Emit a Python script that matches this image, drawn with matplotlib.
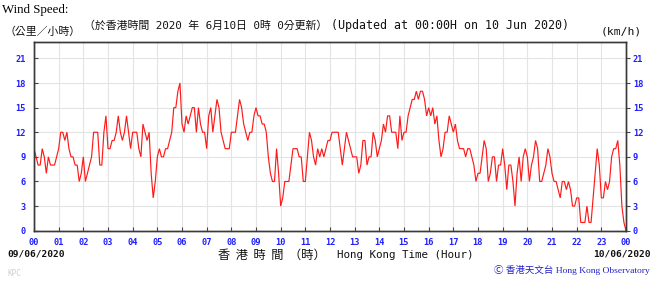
import numpy as np
import matplotlib
matplotlib.use("Agg")
import matplotlib.pyplot as plt

# ---- data: wind speed (km/h) every 5 minutes, one list per hour ----
h00 = [10, 9, 8, 8, 10, 9, 7, 9, 8, 8, 8, 9]
h01 = [10, 12, 12, 11, 12, 10, 9, 9, 8, 8, 6, 7]
h02 = [9, 6, 7, 8, 9, 12, 12, 12, 8, 8, 12, 14]
h03 = [10, 10, 11, 11, 12, 14, 12, 11, 12, 14, 12, 10]
h04 = [12, 12, 12, 10, 9, 13, 12, 11, 12, 7, 4, 6]
h05 = [9, 10, 9, 9, 10, 10, 11, 12, 15, 15, 17, 18]
h06 = [13, 12, 14, 13, 14, 15, 15, 12, 15, 13, 12, 12]
h07 = [10, 14, 15, 12, 14, 16, 15, 12, 11, 10, 10, 10]
h08 = [12, 12, 12, 14, 16, 15, 13, 12, 11, 12, 12, 14]
h09 = [15, 14, 14, 13, 13, 12, 9, 7, 6, 6, 10, 7]
h10 = [3, 4, 6, 6, 6, 8, 10, 10, 10, 9, 9, 6]
h11 = [6, 9, 12, 11, 9, 8, 10, 9, 10, 9, 10, 11]
h12 = [11, 12, 12, 12, 12, 10, 8, 10, 12, 11, 10, 9]
h13 = [9, 9, 7, 8, 11, 11, 8, 9, 9, 12, 11, 9]
h14 = [10, 11, 13, 12, 14, 14, 12, 12, 12, 10, 14, 11]
h15 = [12, 12, 14, 15, 16, 16, 17, 16, 17, 17, 16, 14]
h16 = [15, 14, 15, 13, 14, 11, 9, 10, 12, 12, 14, 13]
h17 = [12, 13, 11, 10, 10, 10, 9, 10, 10, 9, 8, 6]
h18 = [7, 7, 9, 11, 10, 6, 7, 9, 9, 6, 8, 8]
h19 = [10, 8, 5, 8, 8, 6, 3, 7, 9, 6, 9, 10]
h20 = [9, 6, 8, 9, 11, 10, 6, 6, 7, 8, 10, 9]
h21 = [7, 6, 6, 5, 4, 6, 6, 5, 6, 5, 3, 3]
h22 = [4, 4, 1, 1, 1, 3, 1, 1, 4, 7, 10, 8]
h23 = [4, 4, 6, 5, 6, 9, 10, 10, 11, 8, 3, 1]
h24 = [0]

hour_lists = [h00, h01, h02, h03, h04, h05, h06, h07, h08, h09, h10, h11,
              h12, h13, h14, h15, h16, h17, h18, h19, h20, h21, h22, h23, h24]
speed = np.array([v for hl in hour_lists for v in hl], dtype=float)
hours = np.arange(len(speed)) / 12.0

x_ticks = list(range(25))
x_tick_labels = ["00", "01", "02", "03", "04", "05", "06", "07", "08", "09", "10", "11",
                 "12", "13", "14", "15", "16", "17", "18", "19", "20", "21", "22", "23", "00"]
y_ticks = [0, 3, 6, 9, 12, 15, 18, 21]
y_tick_labels = ["0", "3", "6", "9", "12", "15", "18", "21"]

# ---- figure ----
W, H = 656, 285
fig = plt.figure(figsize=(W / 100, H / 100), dpi=100)
fig.patch.set_facecolor("white")

def P(x, y):
    return x / W, 1 - y / H

left, right, top, bottom = 34, 626, 42, 230.7
ax = fig.add_axes([left / W, 1 - bottom / H, (right - left) / W, (bottom - top) / H])

ax.plot(hours, speed, color="#ff1a1a", lw=0.85, solid_joinstyle="miter")
ax.set_xlim(0, 24)
ax.set_ylim(0, 23)

blue = "#1f1fff"
tick_font = dict(family="DejaVu Sans Mono", weight="bold", size=6.2)

ax.set_xticks(x_ticks)
ax.set_xticklabels(x_tick_labels, color=blue, **tick_font)
ax.set_yticks(y_ticks)
ax.set_yticklabels(y_tick_labels, color=blue, **tick_font)
ax.tick_params(axis="x", direction="in", length=3, width=0.8, color="#444444", pad=5)
ax.tick_params(axis="y", direction="in", length=3, width=0.8, color="#444444", pad=6)

ax2 = ax.twinx()
ax2.set_ylim(0, 23)
ax2.set_yticks(y_ticks)
ax2.set_yticklabels(y_tick_labels, color=blue, **tick_font)
ax2.tick_params(axis="y", direction="out", length=3, width=0.8, color="#444444", pad=2)

ax.grid(True, color="#e4e4e4", lw=0.8)
ax.set_axisbelow(True)
for a in (ax, ax2):
    for s in a.spines.values():
        s.set_color("#3a3a3a")
        s.set_linewidth(1.0)

# ---- texts ----
fig.text(*P(2, 10), "Wind Speed:", family="Liberation Serif", size=9.3,
         ha="left", va="center", color="black")
fig.text(*P(4, 32), "（公里／小時）", family=["Noto Sans CJK TC", "DejaVu Sans"], size=7.8,
         ha="left", va="center", color="#111111")
fig.text(*P(84, 26), "（於香港時間 2020 年 6月10日 0時 0分更新）",
         family=["DejaVu Sans Mono", "Noto Sans CJK TC"], size=7.85,
         ha="left", va="center", color="#111111")
fig.text(*P(331, 26), "(Updated at 00:00H on 10 Jun 2020)",
         family="DejaVu Sans Mono", size=8.4, ha="left", va="center", color="#111111")
fig.text(*P(642, 32), "(km/h)", family="DejaVu Sans Mono", size=8.2,
         ha="right", va="center", color="#111111")

fig.text(*P(7, 254), "09/06/2020", family="DejaVu Sans Mono", weight="bold", size=6.8,
         ha="left", va="center", color="#111111")
fig.text(*P(651, 254), "10/06/2020", family="DejaVu Sans Mono", weight="bold", size=6.8,
         ha="right", va="center", color="#111111")
fig.text(*P(218, 255), "香  港  時  間  （時）", family=["Noto Sans CJK TC", "DejaVu Sans"],
         size=8.8, ha="left", va="center", color="#111111")
fig.text(*P(337, 255), "Hong Kong Time (Hour)", family="DejaVu Sans Mono", size=7.8,
         ha="left", va="center", color="#111111")
fig.text(*P(650, 270), "Ⓒ 香港天文台 Hong Kong Observatory",
         family=["Liberation Serif", "Noto Sans CJK TC", "DejaVu Sans"], size=6.8,
         ha="right", va="center", color="#2323c8")
fig.text(*P(8, 273), "KPC", family="DejaVu Sans Mono", size=5.5,
         ha="left", va="center", color="#cfcfcf")

fig.savefig("out.png", dpi=100, facecolor="white")
